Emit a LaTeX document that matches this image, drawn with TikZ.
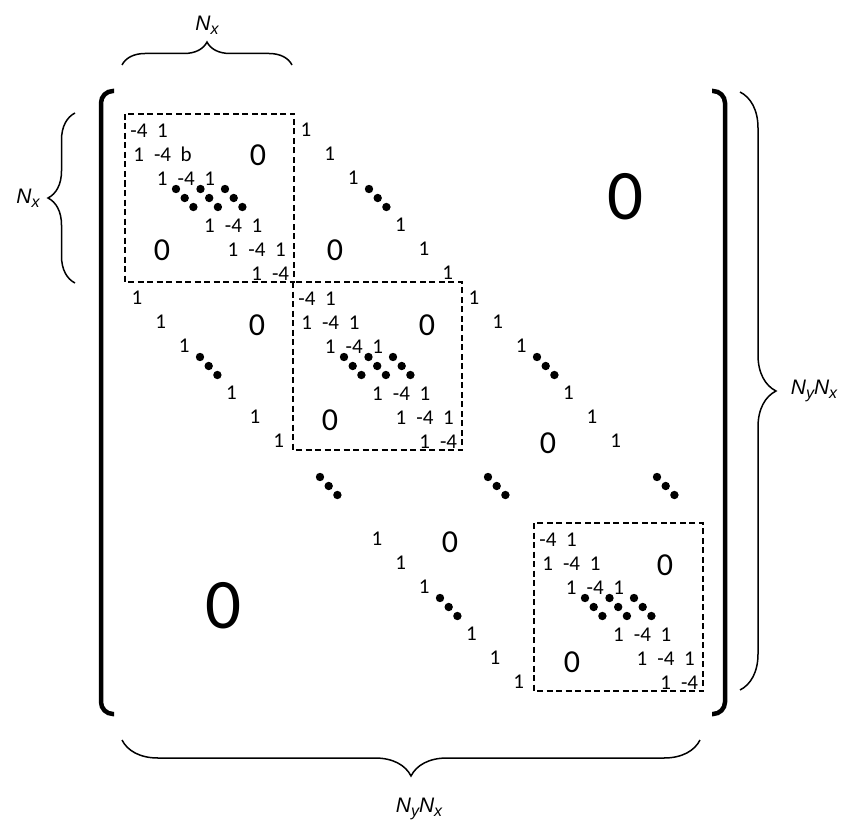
\documentclass[tikz,border=0pt]{standalone}
\usepackage{fontspec}
\setmainfont{Carlito}
\newfontfamily\labfont{Liberation Sans}
\usetikzlibrary{decorations.pathreplacing}
\newcommand\subx[1]{\raisebox{-4pt}{\fontsize{16}{16}\selectfont #1}}
\newcommand\tridiag[4]{%
  \foreach \k in {0,1,2,4,5,6}{%
    \pgfmathsetmacro\cx{#2+14+23.6*\k}%
    \pgfmathsetmacro\cy{#3+17+23.8*\k+6.5}%
    \node[ent] (#1d\k) at (\cx,\cy) {-4};
    \ifnum\k>0 \node[ent] (#1l\k) at (\cx-24,\cy) {1};\fi
    \ifnum\k<6 \node[ent] (#1r\k) at (\cx+23.5,\cy) {\ifnum\k=1 #4\else 1\fi};\fi
  }
  \draw[dbox] (#2,#3) rectangle ++(169,168);
  \foreach \i in {0,1,2}{\foreach \j in {0,1,2}{%
    \fill (#2+51+24.5*\i+8.7*\j,#3+75+9*\j) circle[radius=4.2pt];}}
}
\newcommand\identblk[3]{%
  \foreach \k in {0,1,2,4,5,6}{%
    \pgfmathsetmacro\cx{#2+12+23.6*\k}%
    \pgfmathsetmacro\cy{#3+16+23.8*\k+6.5}%
    \node[ent] (#1e\k) at (\cx,\cy) {1};
  }
  \foreach \j in {0,1,2}{\fill (#2+75+8.7*\j,#3+75+9*\j) circle[radius=4.2pt];}
}
\begin{document}
\begin{tikzpicture}[x=1pt,y=-1pt,
  ent/.style={anchor=base,inner sep=0pt,font=\fontsize{21}{21}\selectfont},
  zmed/.style={inner sep=0pt,font=\fontsize{32}{32}\selectfont},
  zbig/.style={inner sep=0pt,font=\fontsize{71}{71}\selectfont},
  dbox/.style={line width=1.5pt,dash pattern=on 6pt off 3.5pt},
  brk/.style={line width=4.5pt,rounded corners=12pt},
  brc/.style={line width=1.5pt,decorate},
  lab/.style={anchor=base,inner sep=0pt,font=\labfont\itshape\fontsize{21}{21}\selectfont}]
\useasboundingbox (0,0) rectangle (865,832);
% brackets
\draw[brk] (114,91) -- (101,91) -- (101,714) -- (114,714);
\draw[brk] (712,91) -- (725,91) -- (725,714) -- (712,714);
% diagonal blocks
\tridiag{A}{125}{114}{b}
\tridiag{B}{293}{282}{1}
\tridiag{C}{534}{523}{1}
% identity blocks
\identblk{P}{294}{114}
\identblk{Q}{125}{282}
\identblk{R}{462}{282}
\identblk{S}{365}{523}
% zeros
\foreach \x/\y [count=\n] in {258/155,162/250,335/250,257/325,427/325,330/420,548/443,450/542,665/565,572/662}
  \node[zmed] (z\n) at (\x,\y) {0};
\node[zbig] (zb1) at (625,197) {0};
\node[zbig] (zb2) at (223,606) {0};
% gap dots
\foreach \x in {320,488,657}{\foreach \j in {0,1,2}{\fill (\x+8.7*\j,477+9*\j) circle[radius=4.2pt];}}
% braces
\draw[brc,decoration={brace,amplitude=23pt}] (122,65) -- (292,65);
\draw[brc,decoration={brace,amplitude=27pt}] (75,283) -- (75,113);
\draw[brc,decoration={brace,amplitude=36pt}] (740,92) -- (740,690);
\draw[brc,decoration={brace,amplitude=36pt}] (700,740) -- (122,740);
% labels
\node[lab] (ltop) at (207,31) {N\subx{x}};
\node[lab] (lleft) at (28,204) {N\subx{x}};
\node[lab] (lright) at (814,394) {N\subx{y}N\subx{x}};
\node[lab] (lbot) at (419,812) {N\subx{y}N\subx{x}};
\end{tikzpicture}
\end{document}
